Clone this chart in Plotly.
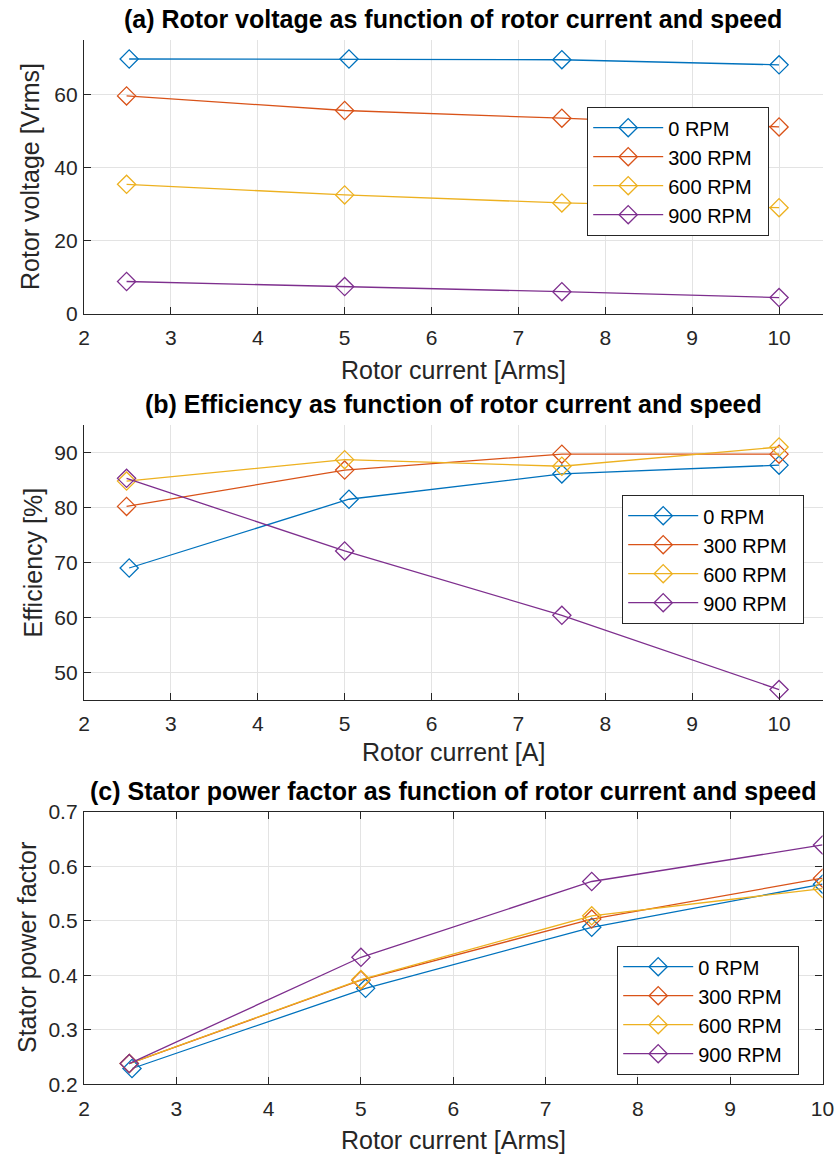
import plotly.graph_objects as go

W, H = 837, 1158

# ---------------- data ----------------
speeds = ["0 RPM", "300 RPM", "600 RPM", "900 RPM"]
colors = ["#0072BD", "#D95319", "#EDB120", "#7E2F8E"]

# rotor current per series (0 RPM measured slightly higher)
current_0rpm = [2.52, 5.05, 7.5, 10.0]
current_other = [2.49, 5.0, 7.5, 10.0]

voltage_0 = [69.8, 69.8, 69.6, 68.2]
voltage_300 = [59.7, 55.7, 53.6, 51.2]
voltage_600 = [35.5, 32.6, 30.4, 29.1]
voltage_900 = [8.9, 7.5, 6.1, 4.5]

eff_0 = [69.0, 81.5, 86.1, 87.7]
eff_300 = [80.2, 86.8, 89.7, 89.7]
eff_600 = [84.8, 88.7, 87.5, 91.0]
eff_900 = [85.3, 72.1, 60.4, 46.9]

pf_0 = [0.229, 0.376, 0.488, 0.567]
pf_300 = [0.238, 0.391, 0.503, 0.578]
pf_600 = [0.238, 0.392, 0.509, 0.559]
pf_900 = [0.238, 0.433, 0.572, 0.639]

x_ticks = [2, 3, 4, 5, 6, 7, 8, 9, 10]
v_ticks = [0, 20, 40, 60]
e_ticks = [50, 60, 70, 80, 90]
pf_ticks = [0.2, 0.3, 0.4, 0.5, 0.6, 0.7]
pf_ticklabels = ["0.2", "0.3", "0.4", "0.5", "0.6", "0.7"]

titles = [
    "(a) Rotor voltage as function of rotor current and speed",
    "(b) Efficiency as function of rotor current and speed",
    "(c) Stator power factor as function of rotor current and speed",
]
xlabels = ["Rotor current [Arms]", "Rotor current [A]", "Rotor current [Arms]"]
ylabels = ["Rotor voltage [Vrms]", "Efficiency [%]", "Stator power factor"]

# ---------------- layout geometry (pixels) ----------------
FONT = "Liberation Sans, Arial, Helvetica, sans-serif"
AX = "#262626"
GRID = "#e3e3e3"
x0, x1 = 84, 822.5
panels = [(40, 314), (425, 700), (811.7, 1084.3)]
legend_pos = [(587, 107), (622, 495), (617, 946)]

def px(x):
    return x / W

def py(y):
    return 1 - y / H

fig = go.Figure()

series = [
    [voltage_0, voltage_300, voltage_600, voltage_900],
    [eff_0, eff_300, eff_600, eff_900],
    [pf_0, pf_300, pf_600, pf_900],
]

NB = "\u00a0"
for p in range(3):
    for i in range(4):
        xs = current_0rpm if i == 0 else current_other
        fig.add_trace(go.Scatter(
            x=xs, y=series[p][i], name=speeds[i] + NB * 2,
            mode="lines+markers",
            line=dict(color=colors[i], width=1.3),
            marker=dict(symbol="diamond-open", size=14, color=colors[i],
                        line=dict(width=1.3, color=colors[i])),
            xaxis="x" if p == 0 else f"x{p+1}",
            yaxis="y" if p == 0 else f"y{p+1}",
            legend="legend" if p == 0 else f"legend{p+1}",
        ))

layout = dict(
    width=W, height=H,
    margin=dict(l=0, r=0, t=0, b=0, pad=0, autoexpand=False),
    paper_bgcolor="white", plot_bgcolor="white",
    font=dict(family=FONT, size=21, color=AX),
    annotations=[], showlegend=True,
)

yranges = [[0, 75], [45, 95], [0.2, 0.7]]
yticks = [v_ticks, e_ticks, pf_ticks]
yticktext = [[str(v) for v in v_ticks], [str(v) for v in e_ticks], pf_ticklabels]
xranges = [[2, 10.5], [2, 10.5], [2, 10]]
ylab_x = [30, 33, 27]

for p in range(3):
    top, bot = panels[p]
    sfx = "" if p == 0 else str(p + 1)
    box = (p == 2)
    common = dict(
        showgrid=True, gridcolor=GRID, gridwidth=1,
        zeroline=False, showline=True, linecolor=AX, linewidth=1.3,
        ticks="inside", ticklen=7, tickwidth=1.3, tickcolor=AX,
        tickfont=dict(family=FONT, size=21, color=AX),
        mirror="ticks" if box else False,
        automargin=False,
    )
    layout["xaxis" + sfx] = dict(
        common, domain=[px(x0), px(x1)], range=xranges[p],
        tickmode="array", tickvals=x_ticks, ticktext=[str(v) for v in x_ticks],
        anchor="y" + sfx, ticklabelstandoff=5,
    )
    layout["yaxis" + sfx] = dict(
        common, domain=[py(bot), py(top)], range=yranges[p],
        tickmode="array", tickvals=yticks[p], ticktext=yticktext[p],
        anchor="x" + sfx, ticklabelstandoff=1,
    )
    lx, ly = legend_pos[p]
    layout["legend" + ("" if p == 0 else str(p + 1))] = dict(
        x=px(lx), y=py(ly), xanchor="left", yanchor="top",
        bgcolor="white", bordercolor=AX, borderwidth=1.2,
        font=dict(family=FONT, size=20, color="#000000"),
        tracegroupgap=0, itemsizing="trace", itemwidth=70,
    )
    # title
    layout["annotations"].append(dict(
        x=px((x0 + x1) / 2), y=py(top - 21), xref="paper", yref="paper",
        text="<b>" + titles[p] + "</b>", showarrow=False,
        xanchor="center", yanchor="middle",
        font=dict(family=FONT, size=25, color="#000000"),
    ))
    # x label
    layout["annotations"].append(dict(
        x=px((x0 + x1) / 2), y=py(bot + 56 if p != 1 else bot + 52), xref="paper", yref="paper",
        text=xlabels[p], showarrow=False, xanchor="center", yanchor="middle",
        font=dict(family=FONT, size=25, color=AX),
    ))
    # y label
    layout["annotations"].append(dict(
        x=px(ylab_x[p]), y=py((top + bot) / 2), xref="paper", yref="paper",
        text=ylabels[p], showarrow=False, xanchor="center", yanchor="middle",
        textangle=-90, font=dict(family=FONT, size=25, color=AX),
    ))

fig.update_layout(**layout)
fig.write_html("out.html")
